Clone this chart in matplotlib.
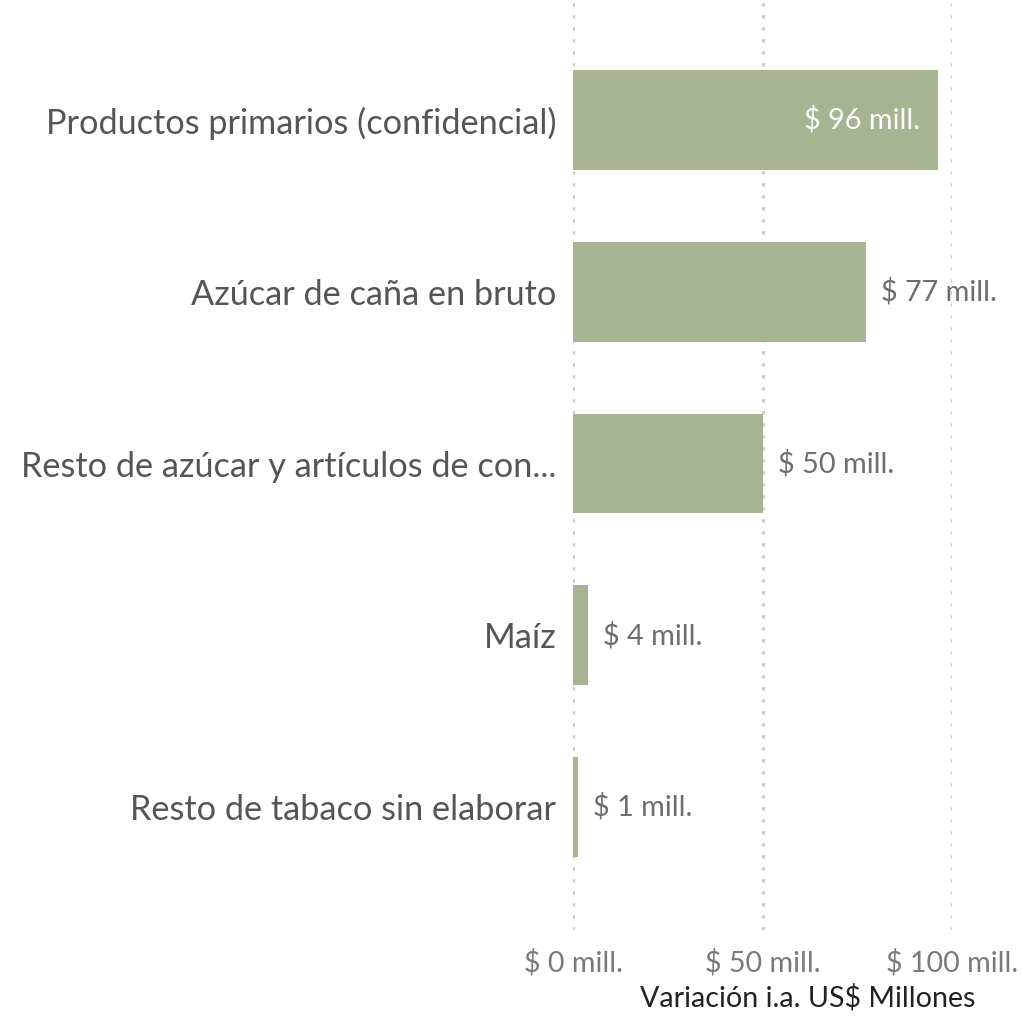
import matplotlib.pyplot as plt

plt.rcParams['font.family'] = ['Lato', 'DejaVu Sans']

categorias = ['Productos primarios (confidencial)', 'Azúcar de caña en bruto',
              'Resto de azúcar y artículos de con...', 'Maíz',
              'Resto de tabaco sin elaborar']
valores = [96.3, 77.3, 50.1, 4.0, 1.3]
etiquetas = ['$ 96 mill.', '$ 77 mill.', '$ 50 mill.', '$ 4 mill.', '$ 1 mill.']
ticks = [0, 50, 100]
tick_labels = ['$ 0 mill.', '$ 50 mill.', '$ 100 mill.']

fig = plt.figure(figsize=(10.21, 10.16), dpi=100)
ax = fig.add_axes([573 / 1021, 1 - 930 / 1016, 379 / 1021, 930 / 1016])

y = list(range(len(categorias)))
ax.barh(y, valores, height=0.58, color='#a6b491', zorder=2)

# lineas de referencia punteadas
for v in ticks:
    ax.axvline(v, color='#cccccc', linestyle=(0, (1, 2.6)), linewidth=2.4, zorder=1)

for i, (v, t) in enumerate(zip(valores, etiquetas)):
    if v > 90:
        ax.text(v - 4.7, i, t, ha='right', va='center', color='white', fontsize=20.8, zorder=3)
    else:
        ax.text(v + 4, i, t, ha='left', va='center', color='#6e6e6e', fontsize=20.8,
                zorder=0, clip_on=False)

ax.set_xlim(0, 100)
ax.set_ylim(4.716, -0.699)
ax.set_yticks(y)
ax.set_yticklabels(categorias, fontsize=24.7, color='#555555')
ax.set_xticks(ticks)
ax.set_xticklabels(tick_labels, fontsize=20.6, color='#7a7a7a')
ax.tick_params(length=0, axis='y', pad=12)
ax.tick_params(length=0, axis='x', pad=14)
for s in ax.spines.values():
    s.set_visible(False)
fig.text(808 / 1021, 1 - 998 / 1016, 'Variación i.a. US$ Millones', fontsize=20.6,
         color='#222222', ha='center', va='center')

fig.savefig('out.png', dpi=100)
